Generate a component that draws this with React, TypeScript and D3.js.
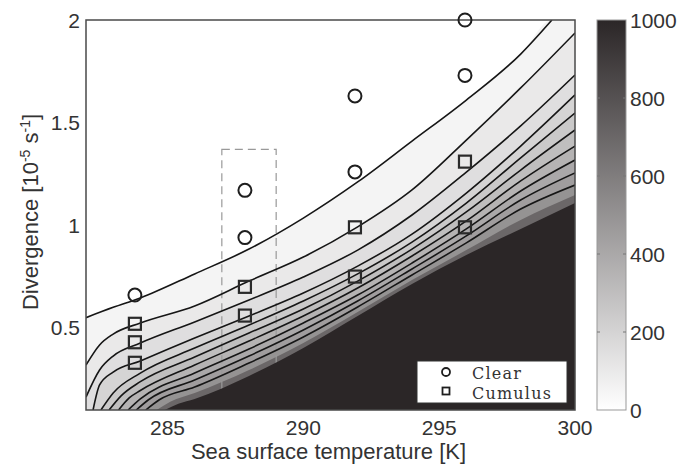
import React from "react";
import * as d3 from "d3";

const width = 682;
const height = 465;
const margin = { top: 20, right: 107, bottom: 55, left: 86 };
const innerWidth = width - margin.left - margin.right;
const innerHeight = height - margin.top - margin.bottom;

// axis ranges and ticks
const sstDomain = [282, 300];
const divDomain = [0.1, 2];
const xTicks = [285, 290, 295, 300];
const yTicks = [0.5, 1, 1.5, 2];
const cbarTicks = [0, 200, 400, 600, 800, 1000];

// contour lines: [SST (K), divergence]
const c50 = [[282, 0.55], [283, 0.6], [284, 0.646], [286, 0.763], [288, 0.884], [290, 1.035], [292, 1.211], [294, 1.41], [296, 1.61], [298, 1.834], [299.15, 2.0]];
const c100 = [[282, 0.319], [282.5, 0.417], [283, 0.47], [284, 0.524], [286, 0.607], [288, 0.728], [290, 0.845], [292, 0.992], [294, 1.172], [296, 1.415], [298, 1.669], [300, 1.937]];
const c150 = [[282, 0.163], [282.5, 0.295], [283, 0.363], [284, 0.426], [286, 0.529], [288, 0.636], [290, 0.748], [292, 0.879], [294, 1.05], [296, 1.259], [298, 1.484], [300, 1.732]];
const c200 = [[282.26, 0.1], [282.5, 0.222], [283, 0.285], [284, 0.339], [286, 0.451], [288, 0.558], [290, 0.67], [292, 0.801], [294, 0.957], [296, 1.157], [298, 1.386], [300, 1.635]];
const c250 = [[282.55, 0.1], [283, 0.183], [284, 0.28], [286, 0.402], [288, 0.514], [290, 0.631], [292, 0.763], [294, 0.918], [296, 1.108], [298, 1.328], [300, 1.547]];
const c300 = [[282.85, 0.1], [283.3, 0.17], [284, 0.238], [286, 0.358], [288, 0.475], [290, 0.592], [292, 0.728], [294, 0.884], [296, 1.065], [298, 1.269], [300, 1.464]];
const c350 = [[283.2, 0.1], [283.6, 0.16], [284, 0.195], [286, 0.319], [288, 0.436], [290, 0.558], [292, 0.694], [294, 0.85], [296, 1.021], [298, 1.216], [300, 1.386]];
const c400 = [[283.55, 0.1], [284, 0.154], [286, 0.28], [288, 0.397], [290, 0.524], [292, 0.66], [294, 0.816], [296, 0.982], [298, 1.167], [300, 1.318]];
const c450 = [[283.85, 0.1], [284.3, 0.15], [286, 0.246], [288, 0.363], [290, 0.49], [292, 0.631], [294, 0.787], [296, 0.948], [298, 1.123], [300, 1.255]];
const c500 = [[284.2, 0.1], [284.7, 0.15], [286, 0.212], [288, 0.329], [290, 0.456], [292, 0.602], [294, 0.758], [296, 0.914], [298, 1.079], [300, 1.196]];
// filled only, no line drawn
const c700 = [[284.6, 0.1], [285.1, 0.14], [286, 0.183], [288, 0.295], [290, 0.426], [292, 0.577], [294, 0.733], [296, 0.879], [298, 1.026], [300, 1.147]];
const c1000 = [[284.9, 0.1], [285.4, 0.13], [286, 0.154], [288, 0.266], [290, 0.402], [292, 0.558], [294, 0.714], [296, 0.855], [298, 0.982], [300, 1.108]];

const lineLevels = [50, 100, 150, 200, 250, 300, 350, 400, 450, 500];
const lineData = [c50, c100, c150, c200, c250, c300, c350, c400, c450, c500];

// observations
const clearSST = [283.8, 287.85, 287.85, 291.9, 291.9, 295.95, 295.95];
const clearDiv = [0.66, 0.94, 1.17, 1.26, 1.63, 1.73, 2.0];
const cumulusSST = [283.8, 283.8, 283.8, 287.85, 287.85, 291.9, 291.9, 295.95, 295.95];
const cumulusDiv = [0.33, 0.43, 0.52, 0.56, 0.7, 0.75, 0.99, 0.99, 1.31];

// dashed box
const boxSST = [287, 289];
const boxDiv = [0.1, 1.37];

const font = "'Liberation Sans', Arial, sans-serif";
const serif = "'DejaVu Serif', serif";
const textColor = "#333";

export default function App() {
  const x = d3.scaleLinear().domain(sstDomain).range([margin.left, margin.left + innerWidth]);
  const y = d3.scaleLinear().domain(divDomain).range([margin.top + innerHeight, margin.top]);
  const color = d3.scaleLinear<string>().domain([0, 1000]).range(["#ffffff", "#2b2627"]);

  const area = d3
    .area<number[]>()
    .x((d) => x(d[0]))
    .y0(y(divDomain[0]))
    .y1((d) => y(d[1]))
    .curve(d3.curveMonotoneX);
  const line = d3
    .line<number[]>()
    .x((d) => x(d[0]))
    .y((d) => y(d[1]))
    .curve(d3.curveMonotoneX);

  // carry a line that leaves through the top over to the right edge
  const withEnd = (pts: number[][]) => {
    const last = pts[pts.length - 1];
    return last[0] < sstDomain[1] ? [...pts, [sstDomain[1], last[1]]] : pts;
  };

  const cbX = 597;
  const cbW = 29;
  const cb = d3.scaleLinear().domain([0, 1000]).range([margin.top + innerHeight, margin.top]);

  return (
    <svg width={width} height={height} style={{ position: "absolute", left: 0, top: 0 }}>
      <defs>
        <clipPath id="plot">
          <rect x={margin.left} y={margin.top} width={innerWidth} height={innerHeight} />
        </clipPath>
        <linearGradient id="cbar" x1="0" y1="1" x2="0" y2="0">
          <stop offset="0" stopColor={color(0)} />
          <stop offset="1" stopColor={color(1000)} />
        </linearGradient>
      </defs>
      <rect width={width} height={height} fill="#fff" />

      <g clipPath="url(#plot)">
        {lineData.map((pts, i) => (
          <path key={"f" + i} d={area(withEnd(pts)) || ""} fill={color(lineLevels[i])} />
        ))}
        <path d={area(c700) || ""} fill={color(700)} />
        <rect
          x={x(boxSST[0])}
          y={y(boxDiv[1])}
          width={x(boxSST[1]) - x(boxSST[0])}
          height={y(boxDiv[0]) - y(boxDiv[1])}
          fill="none"
          stroke="#999"
          strokeWidth={1.2}
          strokeDasharray="8,5"
        />
        <path d={area(c1000) || ""} fill={color(1000)} />
        {lineData.map((pts, i) => (
          <path key={"l" + i} d={line(pts) || ""} fill="none" stroke="#161616" strokeWidth={1.6} />
        ))}
      </g>

      <rect x={margin.left} y={margin.top} width={innerWidth} height={innerHeight} fill="none" stroke="#4a4a4a" strokeWidth={1.5} />

      {clearSST.map((t, i) => (
        <circle key={"c" + i} cx={x(t)} cy={y(clearDiv[i])} r={6.5} fill="none" stroke="#1e1e1e" strokeWidth={2} />
      ))}
      {cumulusSST.map((t, i) => (
        <rect key={"s" + i} x={x(t) - 6} y={y(cumulusDiv[i]) - 6} width={12} height={12} fill="none" stroke="#2a2a2a" strokeWidth={2.2} />
      ))}

      {/* legend */}
      <g>
        <rect x={417} y={361} width={150} height={42} fill="#fff" stroke="#333" strokeWidth={1} />
        <circle cx={446} cy={372} r={4} fill="none" stroke="#1e1e1e" strokeWidth={1.8} />
        <rect x={442.5} y={387.5} width={7} height={7} fill="none" stroke="#1e1e1e" strokeWidth={1.8} />
        <text x={472} y={379} fontFamily={serif} fontSize={16} letterSpacing={1.2} fill={textColor}>Clear</text>
        <text x={472} y={398.5} fontFamily={serif} fontSize={16} letterSpacing={1.2} fill={textColor}>Cumulus</text>
      </g>

      {/* axes labels */}
      {xTicks.map((t) => (
        <text key={"xt" + t} x={x(t)} y={435} textAnchor="middle" fontFamily={font} fontSize={21} fill={textColor}>
          {t}
        </text>
      ))}
      {yTicks.map((t) => (
        <text key={"yt" + t} x={80} y={y(t)} dy="0.36em" textAnchor="end" fontFamily={font} fontSize={21} fill={textColor}>
          {String(t)}
        </text>
      ))}
      <text x={margin.left + innerWidth / 2 - 2} y={459} textAnchor="middle" fontFamily={font} fontSize={22} fill={textColor}>
        Sea surface temperature [K]
      </text>
      <text transform={`translate(38,${margin.top + innerHeight / 2 - 3}) rotate(-90)`} textAnchor="middle" fontFamily={font} fontSize={22} fill={textColor}>
        Divergence [10<tspan dy={-8} fontSize={14}>-5</tspan>
        <tspan dy={8}> s</tspan>
        <tspan dy={-8} fontSize={14}>-1</tspan>
        <tspan dy={8}>]</tspan>
      </text>

      {/* colorbar */}
      <rect x={cbX} y={margin.top} width={cbW} height={innerHeight} fill="url(#cbar)" stroke="#999" strokeWidth={1} />
      {cbarTicks.slice(1, -1).map((t) => (
        <g key={"cbt" + t} stroke="#777" strokeWidth={1}>
          <line x1={cbX} x2={cbX + 3} y1={cb(t)} y2={cb(t)} />
          <line x1={cbX + cbW - 3} x2={cbX + cbW} y1={cb(t)} y2={cb(t)} />
        </g>
      ))}
      {cbarTicks.map((t) => (
        <text key={"cbl" + t} x={630} y={cb(t)} dy="0.36em" fontFamily={font} fontSize={21} fill={textColor}>
          {t}
        </text>
      ))}
    </svg>
  );
}
